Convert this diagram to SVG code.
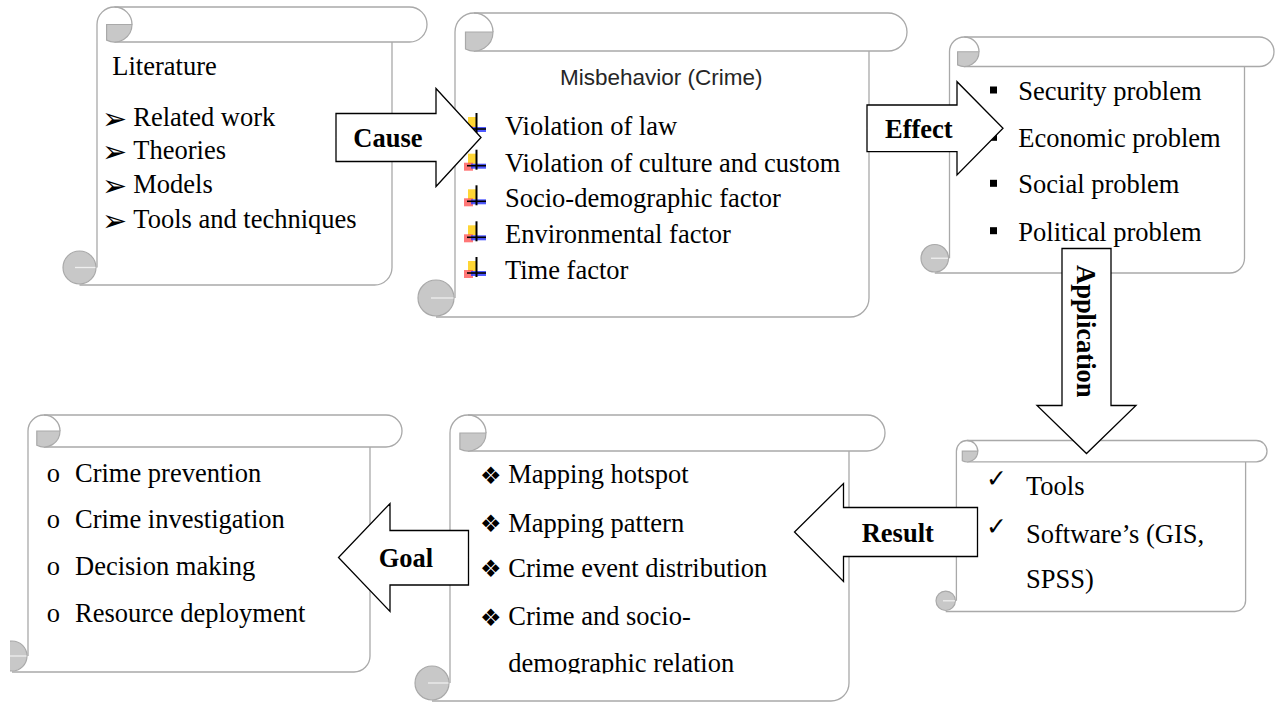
<svg xmlns="http://www.w3.org/2000/svg" xmlns:xlink="http://www.w3.org/1999/xlink" width="1275" height="702" viewBox="0 0 1275 702">
<style>
.bg{fill:#fff}
.fw{fill:#fff;stroke:none}
.ln{fill:none;stroke:#a9a9a9;stroke-width:1.3}
.curl{fill:#c8c8c8;stroke:#a9a9a9;stroke-width:1.2}
.slit{stroke:#efefef;stroke-width:1.3;fill:none}
.arrow{fill:#fff;stroke:#000;stroke-width:1.3;stroke-linejoin:miter}
.t{font-family:"Liberation Serif","Times New Roman",serif;font-size:26.5px;fill:#000}
.lb{font-family:"Liberation Serif","Times New Roman",serif;font-size:26.5px;font-weight:bold;fill:#000}
.sym{font-family:"DejaVu Sans",sans-serif;fill:#000}
.arr{font-size:30px}
.chk{font-size:25px}
.dia{font-size:24px}
.ttl{font-family:"Liberation Sans",Arial,sans-serif;font-size:22.5px;fill:#262626}
</style>
<defs>
<g id="plusb">
<rect x="3" y="-18" width="9" height="10" fill="#ffd21f" opacity="0.9"/>
<rect x="-1" y="-9" width="9" height="8" fill="#ff4a4a" opacity="0.75"/>
<rect x="6" y="-8" width="15" height="5" fill="#2f3cff" opacity="0.85"/>
<line x1="11.5" y1="-22" x2="11.5" y2="-2" stroke="#000" stroke-width="2"/>
<line x1="2" y1="-6" x2="21" y2="-6" stroke="#000" stroke-width="1.6"/>
</g>
<clipPath id="clipS6"><rect x="10" y="400" width="420" height="290"/></clipPath>
<clipPath id="clipS5t"><rect x="400" y="400" width="500" height="273.5"/></clipPath>
</defs>
<rect class="bg" x="0" y="0" width="1275" height="702"/>

<g id="node-literature">
<path class="fw" d="M97,24.5 A17.5,17.5 0 0 1 114.5,7 L409.5,7 A17.5,17.5 0 0 1 409.5,42 L392,42 L392,267.5 A17.5,17.5 0 0 1 374.5,285 L79.5,285 L79.5,250 L97,250 Z"/>
<path class="ln" d="M97,267.5 L97,24.5 A17.5,17.5 0 0 1 114.5,7 L409.5,7 A17.5,17.5 0 0 1 409.5,42 L114.5,42"/>
<path class="ln" d="M392,42 L392,267.5 A17.5,17.5 0 0 1 374.5,285 L79.5,285"/>
<path class="ln" d="M114.5,7 A17.5,17.5 0 0 1 132,24.5"/>
<path class="curl" d="M106.6,24.5 L132,24.5 A17.5,17.5 0 0 1 106.6,40.1 Z"/>
<circle class="curl" cx="79.5" cy="267.5" r="16.5"/>
<path class="slit" d="M75,267.5 L95.5,267.5"/>
<text class="t" x="112.3" y="75">Literature</text>
<text class="sym arr" x="102" y="129">➢</text>
<text class="t" x="133.3" y="126">Related work</text>
<text class="sym arr" x="102" y="162">➢</text>
<text class="t" x="133.3" y="159">Theories</text>
<text class="sym arr" x="102" y="196.3">➢</text>
<text class="t" x="133.3" y="193.3">Models</text>
<text class="sym arr" x="102" y="231.3">➢</text>
<text class="t" x="133.3" y="228.3">Tools and techniques</text>
</g>

<g id="node-misbehavior">
<path class="fw" d="M455,32 A19,19 0 0 1 474,13 L888,13 A19,19 0 0 1 888,51 L869,51 L869,298 A19,19 0 0 1 850,317 L436,317 L436,279 L455,279 Z"/>
<path class="ln" d="M455,298 L455,32 A19,19 0 0 1 474,13 L888,13 A19,19 0 0 1 888,51 L474,51"/>
<path class="ln" d="M869,51 L869,298 A19,19 0 0 1 850,317 L436,317"/>
<path class="ln" d="M474,13 A19,19 0 0 1 493,32"/>
<path class="curl" d="M465.5,32 L493,32 A19,19 0 0 1 465.5,49 Z"/>
<circle class="curl" cx="436" cy="298" r="18"/>
<path class="slit" d="M431,298 L453.5,298"/>
<text class="ttl" x="560" y="85">Misbehavior (Crime)</text>
<use xlink:href="#plusb" x="465" y="135"/>
<text class="t" x="505" y="135">Violation of law</text>
<use xlink:href="#plusb" x="465" y="171.7"/>
<text class="t" x="505" y="171.7">Violation of culture and custom</text>
<use xlink:href="#plusb" x="465" y="207.3"/>
<text class="t" x="505" y="207.3">Socio-demographic factor</text>
<use xlink:href="#plusb" x="465" y="243.3"/>
<text class="t" x="505" y="243.3">Environmental factor</text>
<use xlink:href="#plusb" x="465" y="279"/>
<text class="t" x="505" y="279">Time factor</text>
</g>

<g id="node-effects">
<path class="fw" d="M949.5,51.75 A14.75,14.75 0 0 1 964.25,37 L1259.25,37 A14.75,14.75 0 0 1 1259.25,66.5 L1244.5,66.5 L1244.5,258.25 A14.75,14.75 0 0 1 1229.75,273 L934.75,273 L934.75,243.5 L949.5,243.5 Z"/>
<path class="ln" d="M949.5,258.25 L949.5,51.75 A14.75,14.75 0 0 1 964.25,37 L1259.25,37 A14.75,14.75 0 0 1 1259.25,66.5 L964.25,66.5"/>
<path class="ln" d="M1244.5,66.5 L1244.5,258.25 A14.75,14.75 0 0 1 1229.75,273 L934.75,273"/>
<path class="ln" d="M964.25,37 A14.75,14.75 0 0 1 979,51.75"/>
<path class="curl" d="M957.6,51.75 L979,51.75 A14.75,14.75 0 0 1 957.6,64.9 Z"/>
<circle class="curl" cx="934.75" cy="258.25" r="13.75"/>
<path class="slit" d="M931,258.25 L948,258.25"/>
<rect x="990" y="86.5" width="7" height="7" fill="#000"/>
<text class="t" x="1018.3" y="100">Security problem</text>
<rect x="990" y="133.8" width="7" height="7" fill="#000"/>
<text class="t" x="1018.3" y="147.3">Economic problem</text>
<rect x="990" y="179.8" width="7" height="7" fill="#000"/>
<text class="t" x="1018.3" y="193.3">Social problem</text>
<rect x="990" y="227.2" width="7" height="7" fill="#000"/>
<text class="t" x="1018.3" y="240.7">Political problem</text>
</g>

<g id="node-tools">
<path class="fw" d="M956.4,451.2 A10.7,10.7 0 0 1 967.1,440.5 L1256.3,440.5 A10.7,10.7 0 0 1 1256.3,461.9 L1245.6,461.9 L1245.6,600.8 A10.7,10.7 0 0 1 1234.9,611.5 L945.7,611.5 L945.7,590.1 L956.4,590.1 Z"/>
<path class="ln" d="M956.4,600.8 L956.4,451.2 A10.7,10.7 0 0 1 967.1,440.5 L1256.3,440.5 A10.7,10.7 0 0 1 1256.3,461.9 L967.1,461.9"/>
<path class="ln" d="M1245.6,461.9 L1245.6,600.8 A10.7,10.7 0 0 1 1234.9,611.5 L945.7,611.5"/>
<path class="ln" d="M967.1,440.5 A10.7,10.7 0 0 1 977.8,451.2"/>
<path class="curl" d="M962.3,451.2 L977.8,451.2 A10.7,10.7 0 0 1 962.3,460.75 Z"/>
<circle class="curl" cx="945.7" cy="600.8" r="9.7"/>
<path class="slit" d="M943,600.8 L955,600.8"/>
<text class="sym chk" x="986" y="487">✓</text>
<text class="t" x="1026" y="495">Tools</text>
<text class="sym chk" x="986" y="534.7">✓</text>
<text class="t" x="1026" y="542.7">Software’s (GIS,</text>
<text class="t" x="1026" y="588.3">SPSS)</text>
</g>

<g id="node-results">
<path class="fw" d="M450,433 A18,18 0 0 1 468,415 L867,415 A18,18 0 0 1 867,451 L849,451 L849,683 A18,18 0 0 1 831,701 L432,701 L432,665 L450,665 Z"/>
<path class="ln" d="M450,683 L450,433 A18,18 0 0 1 468,415 L867,415 A18,18 0 0 1 867,451 L468,451"/>
<path class="ln" d="M849,451 L849,683 A18,18 0 0 1 831,701 L432,701"/>
<path class="ln" d="M468,415 A18,18 0 0 1 486,433"/>
<path class="curl" d="M459.9,433 L486,433 A18,18 0 0 1 459.9,449.1 Z"/>
<circle class="curl" cx="432" cy="683" r="17"/>
<path class="slit" d="M428,683 L448.5,683"/>
<g clip-path="url(#clipS5t)">
<text class="sym dia" x="480" y="484">❖</text>
<text class="t" x="508.3" y="483.3">Mapping hotspot</text>
<text class="sym dia" x="480" y="532.4">❖</text>
<text class="t" x="508.3" y="531.7">Mapping pattern</text>
<text class="sym dia" x="480" y="577.4">❖</text>
<text class="t" x="508.3" y="576.7">Crime event distribution</text>
<text class="sym dia" x="480" y="625.7">❖</text>
<text class="t" x="508.3" y="625">Crime and socio-</text>
<text class="t" x="508.3" y="671.7">demographic relation</text>
</g>
</g>

<g id="node-goals">
<path class="fw" d="M28,431 A16,16 0 0 1 44,415 L386,415 A16,16 0 0 1 386,447 L370,447 L370,656 A16,16 0 0 1 354,672 L12,672 L12,640 L28,640 Z"/>
<path class="ln" d="M28,656 L28,431 A16,16 0 0 1 44,415 L386,415 A16,16 0 0 1 386,447 L44,447"/>
<path class="ln" d="M370,447 L370,656 A16,16 0 0 1 354,672 L12,672"/>
<path class="ln" d="M44,415 A16,16 0 0 1 60,431"/>
<path class="curl" d="M36.8,431 L60,431 A16,16 0 0 1 36.8,445.3 Z"/>
<g clip-path="url(#clipS6)">
<circle class="curl" cx="12" cy="656" r="15"/>
<path class="slit" d="M9,656 L26.5,656"/>
</g>
<text class="t" font-size="22" x="46.7" y="481.7">o</text>
<text class="t" x="75" y="481.7">Crime prevention</text>
<text class="t" font-size="22" x="46.7" y="528.3">o</text>
<text class="t" x="75" y="528.3">Crime investigation</text>
<text class="t" font-size="22" x="46.7" y="575">o</text>
<text class="t" x="75" y="575">Decision making</text>
<text class="t" font-size="22" x="46.7" y="621.7">o</text>
<text class="t" x="75" y="621.7">Resource deployment</text>
</g>

<g id="connectors">
<g id="arrow-cause">
<polygon class="arrow" points="336,113.5 436,113.5 436,88.5 481,137.5 436,186.5 436,161.5 336,161.5"/>
<text class="lb" x="353.3" y="146.7">Cause</text>
</g>
<g id="arrow-effect">
<polygon class="arrow" points="867,105 957,105 957,81.7 1003,128.3 957,175 957,151.7 867,151.7"/>
<text class="lb" x="885" y="138.3">Effect</text>
</g>
<g id="arrow-application">
<polygon class="arrow" points="1062,248.5 1111,248.5 1111,405.5 1136,405.5 1086.5,453.5 1037,405.5 1062,405.5"/>
<text class="lb" transform="translate(1076.5,265) rotate(90)" x="0" y="0">Application</text>
</g>
<g id="arrow-result">
<polygon class="arrow" points="977.5,507.5 843.5,507.5 843.5,483.5 794.5,532 843.5,581.5 843.5,556.5 977.5,556.5"/>
<text class="lb" x="861.7" y="541.7">Result</text>
</g>
<g id="arrow-goal">
<polygon class="arrow" points="468.5,530.5 390,530.5 390,503.5 338.5,557.5 390,611.5 390,585 468.5,585"/>
<text class="lb" x="406" y="566.7" text-anchor="middle">Goal</text>
</g>
</g>
</svg>
